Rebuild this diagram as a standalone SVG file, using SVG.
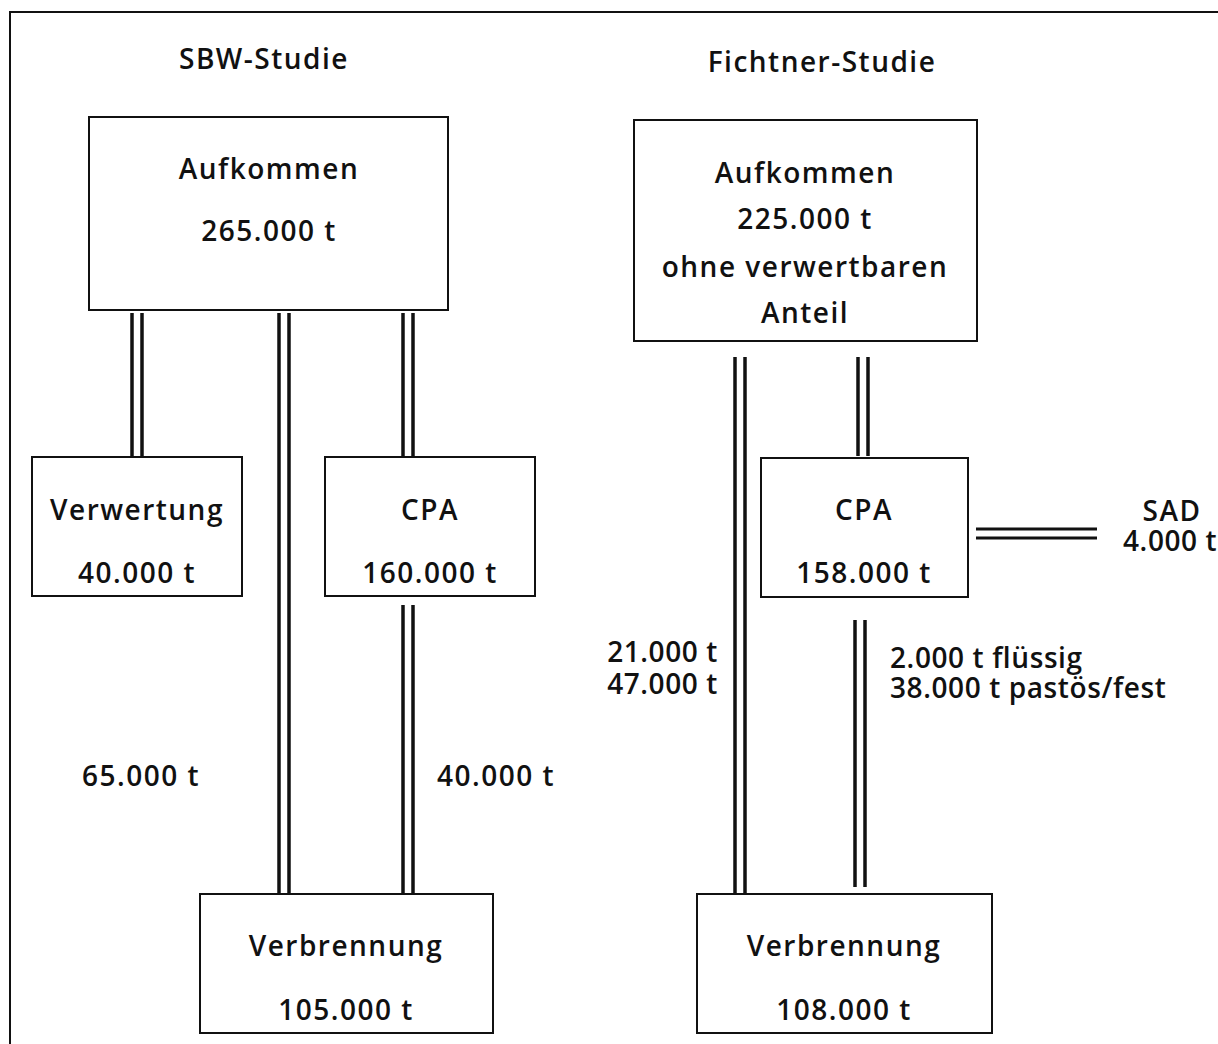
<svg xmlns="http://www.w3.org/2000/svg" width="1218" height="1044" viewBox="0 0 1218 1044">
<style>
text{font-family:"Open Sans","Noto Sans","DejaVu Sans",sans-serif;font-weight:600;font-size:28px;fill:#111;letter-spacing:1.5px}
.c{text-anchor:middle}
.r{text-anchor:end}
.n{letter-spacing:0.6px}
.box{fill:#fff;stroke:#111;stroke-width:2}
.dl line{stroke:#111;stroke-width:3.5}
.frame{fill:none;stroke:#111;stroke-width:2}
</style>
<rect width="1218" height="1044" style="fill:#fff;stroke:none"/>
<path class="frame" d="M10,1044 V12 H1218"/>
<text class="c" x="264" y="69">SBW-Studie</text>
<text class="c" x="822" y="72">Fichtner-Studie</text>
<g id="connectors" class="dl">
<line x1="132" y1="313" x2="132" y2="456"/><line x1="142" y1="313" x2="142" y2="456"/>
<line x1="279" y1="313" x2="279" y2="893"/><line x1="289" y1="313" x2="289" y2="893"/>
<line x1="403" y1="313" x2="403" y2="456"/><line x1="413" y1="313" x2="413" y2="456"/>
<line x1="403" y1="605" x2="403" y2="893"/><line x1="413" y1="605" x2="413" y2="893"/>
<line x1="735" y1="357" x2="735" y2="893"/><line x1="745" y1="357" x2="745" y2="893"/>
<line x1="858" y1="357" x2="858" y2="456"/><line x1="868" y1="357" x2="868" y2="456"/>
<line x1="855" y1="620" x2="855" y2="887"/><line x1="865" y1="620" x2="865" y2="887"/>
<line x1="976" y1="529" x2="1097" y2="529" style="stroke-width:3"/><line x1="976" y1="538" x2="1097" y2="538" style="stroke-width:3"/>
<text class="c" x="141" y="786">65.000 t</text>
<text class="c" x="496" y="786">40.000 t</text>
<text class="r n" x="718" y="662">21.000 t</text>
<text class="r n" x="718" y="694">47.000 t</text>
<text class="n" x="890" y="668">2.000 t flüssig</text>
<text class="n" x="890" y="698">38.000 t pastös/fest</text>
</g>
<g id="sbw-aufkommen"><rect class="box" x="89" y="117" width="359" height="193"/>
<text class="c" x="269" y="179">Aufkommen</text><text class="c" x="269" y="241">265.000 t</text></g>
<g id="sbw-verwertung"><rect class="box" x="32" y="457" width="210" height="139"/>
<text class="c" x="137" y="520">Verwertung</text><text class="c" x="137" y="583">40.000 t</text></g>
<g id="sbw-cpa"><rect class="box" x="325" y="457" width="210" height="139"/>
<text class="c" x="430" y="520">CPA</text><text class="c" x="430" y="583">160.000 t</text></g>
<g id="sbw-verbrennung"><rect class="box" x="200" y="894" width="293" height="139"/>
<text class="c" x="346" y="956">Verbrennung</text><text class="c" x="346" y="1020">105.000 t</text></g>
<g id="f-aufkommen"><rect class="box" x="634" y="120" width="343" height="221"/>
<text class="c" x="805" y="183">Aufkommen</text><text class="c" x="805" y="229">225.000 t</text>
<text class="c" x="805" y="277">ohne verwertbaren</text><text class="c" x="805" y="323">Anteil</text></g>
<g id="f-cpa"><rect class="box" x="761" y="458" width="207" height="139"/>
<text class="c" x="864" y="520">CPA</text><text class="c" x="864" y="583">158.000 t</text></g>
<g id="f-sad"><text class="c" x="1172" y="521">SAD</text><text class="n" x="1123" y="551">4.000 t</text></g>
<g id="f-verbrennung"><rect class="box" x="697" y="894" width="295" height="139"/>
<text class="c" x="844" y="956">Verbrennung</text><text class="c" x="844" y="1020">108.000 t</text></g>
</svg>
